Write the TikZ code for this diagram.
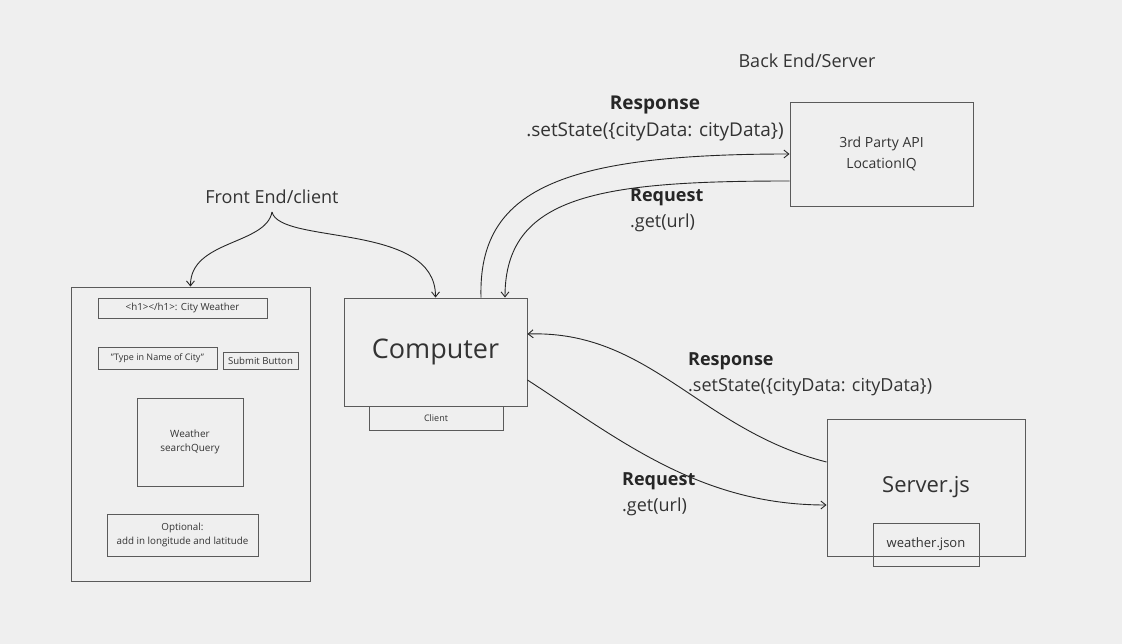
\documentclass[tikz,border=0pt]{standalone}
\usepackage{fontspec}
\setmainfont{Open Sans}
\usetikzlibrary{arrows.meta,calc}
\definecolor{bg}{HTML}{EFEFEF}
\definecolor{boxline}{HTML}{5A5A5A}
\definecolor{txt}{HTML}{333333}
\begin{document}
\begin{tikzpicture}[x=1pt,y=-1pt,
  box/.style={draw=boxline, line width=0.9pt, rectangle, inner sep=0pt, text=txt, align=center},
  conn/.style={draw=black!85, line width=0.9pt, -{Straight Barb[length=5pt,width=8pt]}},
  lbl/.style={text=txt, inner sep=0pt},
  bold/.style={text=black!85, inner sep=0pt, font=\fontsize{18}{21}\selectfont\bfseries}
]
\useasboundingbox[fill=bg] (0,0) rectangle (1122,644);

% front end
\node[box, minimum width=239pt, minimum height=294pt] (big) at (190.5,434) {};
\node[box, minimum width=169pt, minimum height=20pt, font=\fontsize{9.8}{11}\selectfont] (h1) at (182.5,308) {<h1></h1>: City Weather};
\node[box, minimum width=119pt, minimum height=22pt, font=\fontsize{9}{11}\selectfont] (typein) at (157.5,358) {"Type in Name of City"};
\node[box, minimum width=75pt, minimum height=17pt, font=\fontsize{9.6}{11}\selectfont] (submit) at (260.5,360.5) {Submit Button};
\node[box, minimum width=106pt, minimum height=88pt, font=\fontsize{10}{14}\selectfont] (weather) at (190,442) {Weather\\searchQuery};
\node[box, minimum width=151pt, minimum height=42pt, font=\fontsize{9.8}{14}\selectfont] (optional) at (182.5,535) {Optional:\\add in longitude and latitude};

\node[lbl, font=\fontsize{18}{21}\selectfont] (front) at (272,197) {Front End/client};
\coordinate (brace) at (272,212);

\node[box, minimum width=183pt, minimum height=108pt, font=\fontsize{27}{32}\selectfont] (computer) at (435.5,352) {Computer};
\node[box, minimum width=134pt, minimum height=24pt, font=\fontsize{9}{11}\selectfont] (client) at (436,418) {Client};

% back end
\node[lbl, font=\fontsize{18}{21}\selectfont] (back) at (807,61) {Back End/Server};
\node[box, minimum width=183pt, minimum height=104pt, font=\fontsize{14}{21}\selectfont] (api) at (881.5,154) {3rd Party API\\LocationIQ};
\node[box, minimum width=198pt, minimum height=137pt, font=\fontsize{22}{26}\selectfont] (server) at (926,487.5) {\raisebox{-3pt}{Server.js}};
\node[box, minimum width=106pt, minimum height=43pt, font=\fontsize{13}{16}\selectfont] (wjson) at (926,544.5) {weather.json};

% labels top
\node[bold, font=\fontsize{19}{22}\selectfont\bfseries] (resp1) at (655,105) {Response};
\node[lbl, font=\fontsize{19}{22}\selectfont] (set1) at (655,132) {.setState(\{cityData: cityData\})};
\node[bold, anchor=west] (req1) at (630,197) {Request};
\node[lbl, anchor=west, font=\fontsize{18}{21}\selectfont] (get1) at (630,223) {.get(url)};

% labels bottom
\node[bold, anchor=west] (resp2) at (688,361) {Response};
\node[lbl, anchor=west, font=\fontsize{18}{21}\selectfont] (set2) at (688,387) {.setState(\{cityData: cityData\})};
\node[bold, anchor=west] (req2) at (622,481) {Request};
\node[lbl, anchor=west, font=\fontsize{18}{21}\selectfont] (get2) at (622,507) {.get(url)};

% brace arrows
\draw[conn] (brace) .. controls (266,245) and (190,240) .. (big.north);
\draw[conn] (brace) .. controls (280,245) and (436,222) .. (computer.north);

% top connectors
\draw[conn] ([xshift=45.5pt]computer.north) .. controls (478,190) and (560,154) .. (api.west);
\draw[conn] ([yshift=-27pt]api.west) .. controls (600,181) and (505,195) .. ([xshift=69.5pt]computer.north);

% bottom connectors
\draw[conn] ([yshift=25.5pt]server.west) .. controls (700,430) and (650,330) .. ([yshift=18pt]computer.east);
\draw[conn] ([yshift=-28pt]computer.east) .. controls (620,440) and (700,505) .. ([yshift=-17.5pt]server.west);
\end{tikzpicture}
\end{document}
